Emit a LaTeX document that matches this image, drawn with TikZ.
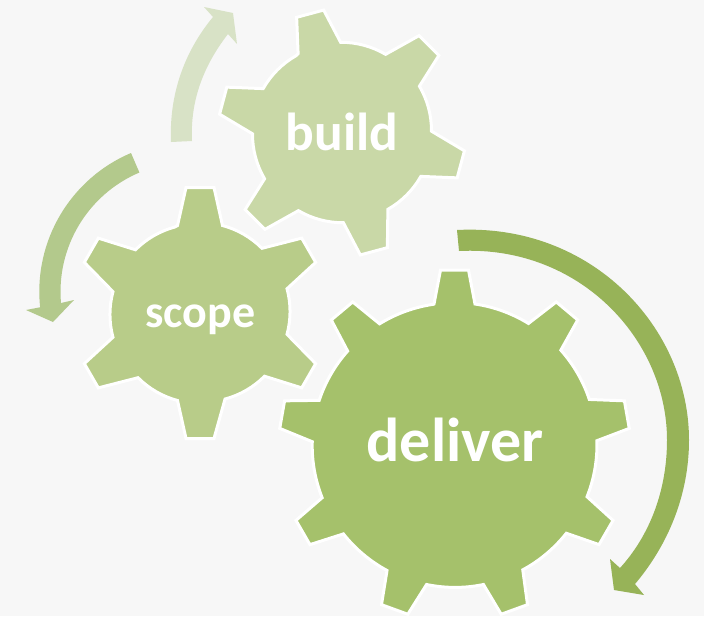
\documentclass[tikz,border=0pt]{standalone}
\usepackage{fontspec}
\setmainfont{Carlito}
\definecolor{bgc}{HTML}{F7F7F7}
\definecolor{gdeliver}{HTML}{A5C16B}
\definecolor{gscope}{HTML}{B8CC89}
\definecolor{gbuild}{HTML}{C9D8A7}
\definecolor{atop}{HTML}{D8E2C6}
\definecolor{aleft}{HTML}{B3C98C}
\definecolor{aright}{HTML}{97B358}
\tikzset{
  gearline/.style={draw=white,line width=3pt,line join=miter},
  gearlabel/.style={text=white,inner sep=0pt,anchor=base},
}
\newcommand{\gearpt}[4]{({#1+(#3)*cos(\a)-(#4)*sin(\a)},{#2+(#3)*sin(\a)+(#4)*cos(\a)})}
% cx cy rb rt hb ht n start colour
\newcommand{\gearshape}[9]{%
  \pgfmathsetmacro{\gstep}{360/#7}%
  \pgfmathsetmacro{\gda}{asin(#5/#3)}%
  \def\a{#8}%
  \draw[gearline,fill=#9] \gearpt{#1}{#2}{#3}{-#5}
    \foreach \i [evaluate=\i as \a using #8+(\i-1)*\gstep,
                 evaluate=\i as \sa using #8+(\i-1)*\gstep+\gda,
                 evaluate=\i as \ea using #8+\i*\gstep-\gda] in {1,...,#7}{
      -- \gearpt{#1}{#2}{#4}{-#6} -- \gearpt{#1}{#2}{#4}{#6} -- \gearpt{#1}{#2}{#3}{#5}
      arc[start angle=\sa,end angle=\ea,radius=#3]
    } -- cycle;
}
\begin{document}
\begin{tikzpicture}[x=1pt,y=-1pt]
\path[use as bounding box,fill=bgc] (0,0) rectangle (704,616);
% arrows
\fill[atop] (171,142) .. controls (169,95) and (184,52) .. (213,17)
  -- (204,7) -- (233,13) -- (237,44) -- (228,34)
  .. controls (204,65) and (190,100) .. (192,141) -- cycle;
\fill[aleft] (131,153) arc[start angle=247,end angle=174,radius=150.5]
  -- (26,310) -- (53,322) -- (74,300) -- (61,303)
  arc[start angle=175,end angle=247,radius=129.5] -- cycle;
\fill[aright] (457,230) .. controls (592,223) and (689,328) .. (689,440)
  .. controls (689,495) and (668,545) .. (635,584)
  -- (644,595) -- (614,590) -- (610,559) -- (620,568)
  .. controls (650,535) and (667,490) .. (667,440)
  .. controls (667,340) and (580,245) .. (459,251) -- cycle;
% gears
\gearshape{342}{132.5}{87.5}{123}{22}{14}{6}{-105}{gbuild}
\gearshape{200}{313}{87.5}{125.5}{22.5}{14}{6}{-90}{gscope}
\gearshape{454.5}{445}{141}{175}{20.5}{14}{9}{-90}{gdeliver}
% labels
\node[gearlabel,font=\bfseries\fontsize{53.5}{53.5}\selectfont] (build) at (342,150) {build};
\node[gearlabel,font=\bfseries\fontsize{46}{46}\selectfont] (scope) at (200.5,327) {scope};
\node[gearlabel,font=\bfseries\fontsize{62}{62}\selectfont] (deliver) at (455,461) {deliver};
\end{tikzpicture}
\end{document}
